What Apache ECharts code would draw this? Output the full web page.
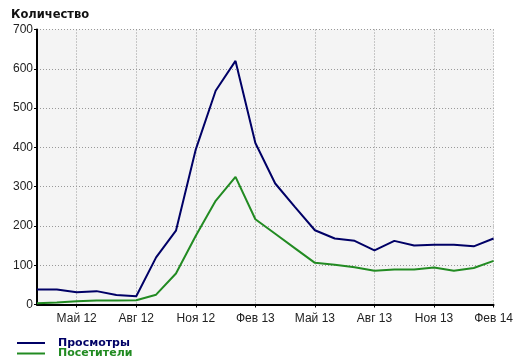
<!DOCTYPE html>
<html>
<head>
<meta charset="utf-8">
<script src="https://cdn.jsdelivr.net/npm/echarts@6/dist/echarts.min.js"></script>
<style>
html,body{margin:0;padding:0;background:#fff;}
#c{width:516px;height:362px;}
</style>
</head>
<body>
<div id="c"></div>
<script>
const months = ["Мар 12","Апр 12","Май 12","Июн 12","Июл 12","Авг 12","Сен 12","Окт 12","Ноя 12","Дек 12","Янв 13","Фев 13",
                "Мар 13","Апр 13","Май 13","Июн 13","Июл 13","Авг 13","Сен 13","Окт 13","Ноя 13","Дек 13","Янв 14","Фев 14"];
const labeledMonths = ["Май 12","Авг 12","Ноя 12","Фев 13","Май 13","Авг 13","Ноя 13","Фев 14"];
const views =    [38, 38, 31, 34, 24, 21, 120, 188, 395, 544, 620, 411, 308, 248, 189, 168, 162, 138, 162, 150, 152, 152, 148, 168];
const visitors = [3, 5, 8, 10, 10, 11, 25, 79, 175, 264, 325, 217, 180, 143, 106, 101, 95, 86, 89, 89, 94, 86, 93, 111];
const yTicks = [0, 100, 200, 300, 400, 500, 600, 700];

const showIdx = (i) => labeledMonths.indexOf(months[i]) >= 0;
const legendBase = (name, color, top) => ({
  orient: 'horizontal', left: 17, top: top,
  icon: 'rect', itemWidth: 28, itemHeight: 2, padding: 0,
  textStyle: { fontFamily: 'DejaVu Sans', fontWeight: 'bold', fontSize: 11, color: color, padding: [0, 0, 0, 8] },
  data: [name]
});
const chart = echarts.init(document.getElementById('c'));
chart.setOption({
  animation: false,
  title: {
    text: 'Количество', left: 6, top: 4,
    textStyle: { fontFamily: 'DejaVu Sans', fontWeight: 'bold', fontSize: 11.5, color: '#111' }
  },
  grid: { left: 37, right: 19, top: 29.5, bottom: 57.5, show: true, backgroundColor: '#f4f4f4', borderWidth: 0 },
  legend: [
    legendBase('Просмотры', '#000066', 337.5),
    legendBase('Посетители', '#228b22', 348)
  ],
  xAxis: {
    type: 'category', data: months, boundaryGap: false,
    axisLine: { lineStyle: { color: '#000', width: 2 } },
    axisTick: { show: true, length: 3, interval: (i) => showIdx(i), lineStyle: { color: '#000' } },
    axisLabel: { interval: (i) => showIdx(i), margin: 8, fontFamily: 'Liberation Sans', fontSize: 12, color: '#222' },
    splitLine: { show: true, interval: (i) => showIdx(i), lineStyle: { color: '#999', type: [1, 2], width: 1 } }
  },
  yAxis: {
    type: 'value', min: yTicks[0], max: yTicks[yTicks.length - 1], interval: 100,
    axisLine: { show: true, lineStyle: { color: '#000', width: 2 } },
    axisTick: { show: true, length: 3, lineStyle: { color: '#000' } },
    axisLabel: { margin: 4, fontFamily: 'Liberation Sans', fontSize: 12, color: '#222' },
    splitLine: { show: true, lineStyle: { color: '#999', type: [1, 2], width: 1 } }
  },
  series: [
    { name: 'Просмотры', type: 'line', data: views, showSymbol: false, symbol: 'none',
      lineStyle: { color: '#000066', width: 2 }, itemStyle: { color: '#000066' } },
    { name: 'Посетители', type: 'line', data: visitors, showSymbol: false, symbol: 'none',
      lineStyle: { color: '#228b22', width: 2 }, itemStyle: { color: '#228b22' } }
  ]
});
</script>
</body>
</html>
